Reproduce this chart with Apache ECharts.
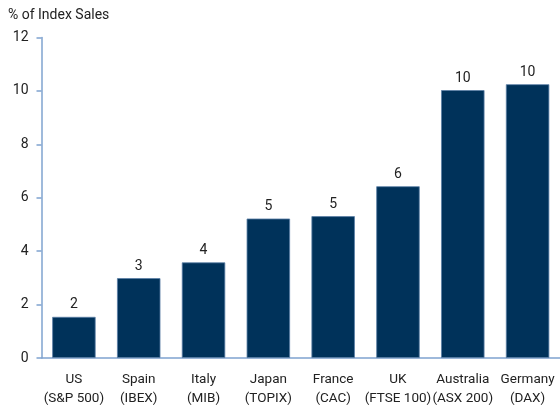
<!DOCTYPE html>
<html>
<head>
<meta charset="utf-8">
<script src="https://cdn.jsdelivr.net/npm/echarts@6/dist/echarts.min.js"></script>
<style>html,body{margin:0;padding:0;background:#fff;}#c{width:560px;height:409px;}</style>
</head>
<body>
<div id="c"></div>
<script>
var categories = ['US\n(S&P 500)', 'Spain\n(IBEX)', 'Italy\n(MIB)', 'Japan\n(TOPIX)', 'France\n(CAC)', 'UK\n(FTSE 100)', 'Australia\n(ASX 200)', 'Germany\n(DAX)'];
var values = [1.54, 2.99, 3.58, 5.22, 5.31, 6.43, 10.03, 10.25];
var valueLabels = ['2', '3', '4', '5', '5', '6', '10', '10'];
var yTicks = [0, 2, 4, 6, 8, 10, 12];

var FONT = '"Liberation Sans Narrow", Roboto, sans-serif';
var chart = echarts.init(document.getElementById('c'), null, {renderer: 'canvas'});
chart.setOption({
  animation: false,
  backgroundColor: '#ffffff',
  textStyle: {fontFamily: FONT},
  title: {
    text: '% of Index Sales',
    left: 3, top: 3,
    textStyle: {fontFamily: FONT, fontSize: 14, fontWeight: 'normal', color: '#222'}
  },
  grid: {left: 41.5, right: -3, top: 37.5, bottom: 51},
  xAxis: {
    type: 'category',
    data: categories,
    axisLine: {lineStyle: {color: '#7fa3cf', width: 1.5}},
    axisTick: {show: false},
    axisLabel: {
      color: '#222', fontSize: 13.5, fontFamily: FONT, lineHeight: 19, margin: 12, interval: 0
    }
  },
  yAxis: {
    type: 'value',
    min: yTicks[0], max: yTicks[yTicks.length - 1], interval: 2,
    axisLine: {show: true, lineStyle: {color: '#7fa3cf', width: 1.5}},
    axisTick: {show: true, length: 5, lineStyle: {color: '#7fa3cf', width: 1.5}},
    splitLine: {show: false},
    axisLabel: {color: '#222', fontSize: 14, fontFamily: FONT, margin: 13}
  },
  series: [{
    type: 'bar',
    data: values,
    barWidth: '67%',
    itemStyle: {color: '#00325a', borderColor: '#5b7fa6', borderWidth: 0.8},
    label: {
      show: true, position: 'top', distance: 5,
      color: '#222', fontSize: 14, fontFamily: FONT,
      formatter: function (p) { return valueLabels[p.dataIndex]; }
    }
  }]
});
</script>
</body>
</html>
